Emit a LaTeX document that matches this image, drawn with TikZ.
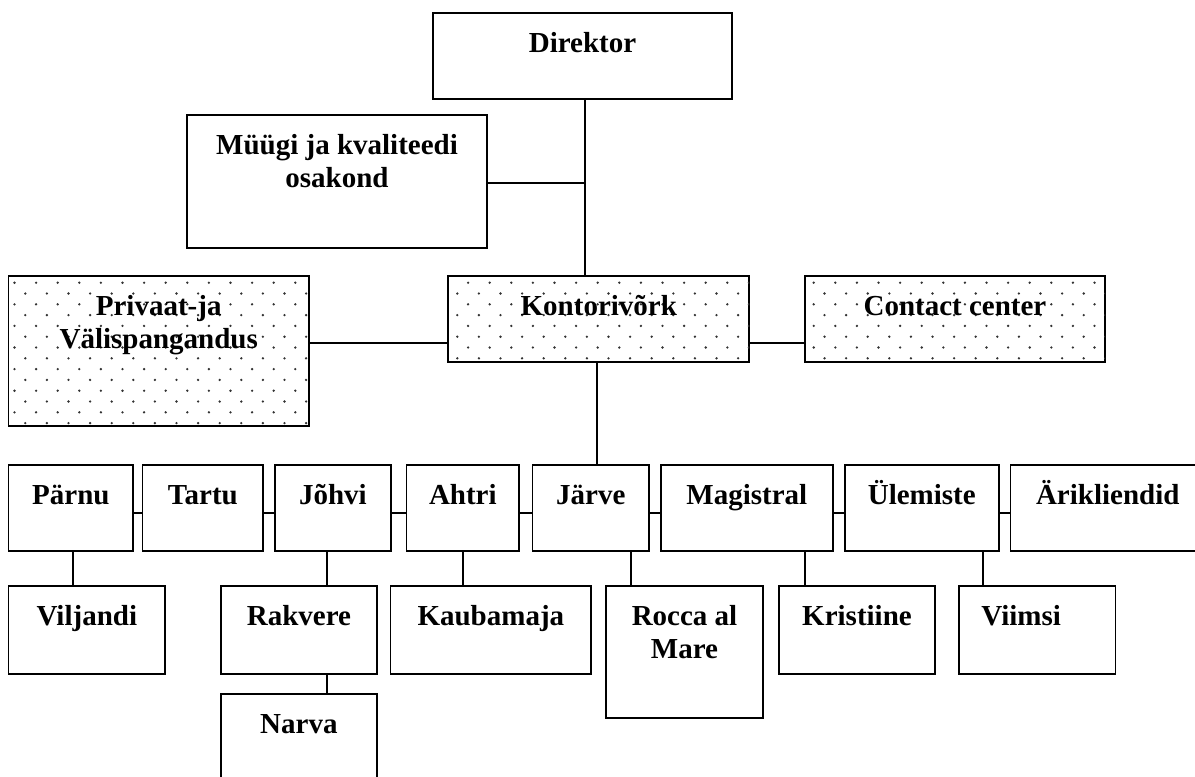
\documentclass[tikz,border=0pt]{standalone}
\usepackage{fontspec}
\setmainfont{Liberation Serif}
\newcommand\orgbox[5]{%
  \node[box, minimum width={#4-#2}, minimum height={#5-#3}] (#1) at ({(#2+#4)/2},{(#3+#5)/2}) {};}
\newcommand\orgtext[3][0]{%
  \node[lbl, anchor=base] (#2-t) at ([xshift=#1pt,yshift=-39pt]#2.north) {#3};}
\newcommand\orgtexttwo[2]{%
  \node[lbl, anchor=base] (#1-t) at ([yshift=-72.5pt]#1.north) {#2};}
\newcommand\dotgrid[5]{%
  \begin{scope}
    \clip (#1.south west) rectangle (#1.north east);
    \foreach \j in {#4,...,#5}{
      \foreach \i in {#2,...,#3}{
        \fill[dotc] ({14.5+21.6*\i+10.8*mod(\j,2)},{282.7+10.8*\j}) circle (1.3pt);
      }}
  \end{scope}}
\begin{document}
\begin{tikzpicture}[x=1pt,y=-1pt,
  box/.style={draw, line width=1.8pt, rectangle, inner sep=0pt, outer sep=0pt},
  lbl/.style={font=\bfseries\fontsize{29}{33.5}\selectfont, inner sep=0pt, align=center},
  conn/.style={line width=1.5pt},
  dotc/.style={fill=black!80}]
\useasboundingbox (0,0) rectangle (1195,777);
\clip (0,0) rectangle (1195,777);

% top level
\orgbox{direktor}{433}{13}{732}{99}
\orgbox{muugi}{187}{115}{487}{248}
% middle level
\orgbox{privaat}{8.4}{276}{309}{426}
\orgbox{kontor}{448.3}{276}{749.3}{362}
\orgbox{contact}{804.9}{276}{1105}{362}
% row 1
\orgbox{parnu}{8.4}{465}{133.3}{551}
\orgbox{tartu}{142.4}{465}{263.3}{551}
\orgbox{johvi}{274.8}{465}{391}{551}
\orgbox{ahtri}{406.4}{465}{519.3}{551}
\orgbox{jarve}{532.5}{465}{649.2}{551}
\orgbox{magistral}{660.6}{465}{833}{551}
\orgbox{ulemiste}{844.6}{465}{999}{551}
\orgbox{ariklient}{1010.5}{465}{1205}{551}
% row 2
\orgbox{viljandi}{8.4}{586}{165.3}{674}
\orgbox{rakvere}{220.8}{586}{377}{674}
\orgbox{kaubamaja}{390.4}{586}{591.3}{674}
\orgbox{rocca}{606.2}{586}{762.8}{718}
\orgbox{kristiine}{778.7}{586}{935.3}{674}
\orgbox{viimsi}{958.8}{586}{1115.5}{674}
% row 3
\orgbox{narva}{220.8}{694}{377}{800}

% dotted fills
\dotgrid{privaat}{0}{13}{0}{13}
\dotgrid{kontor}{19}{34}{0}{7}
\dotgrid{contact}{36}{50}{0}{7}

% connectors
\coordinate (trunk) at ([xshift=2.5pt]direktor.south);
\draw[conn] (trunk) -- (trunk |- kontor.north);
\draw[conn] ([yshift=-1.5pt]muugi.east) -- ([yshift=-1.5pt]muugi.east -| trunk);
\draw[conn] ([yshift=-24pt]kontor.west) -- ([yshift=-24pt]kontor.west -| privaat.east);
\draw[conn] ([yshift=-24pt]kontor.east) -- ([yshift=-24pt]kontor.east -| contact.west);
\draw[conn] ([xshift=-2pt]kontor.south) -- ([xshift=-2pt]kontor.south |- jarve.north);
\foreach \a/\b in {parnu/tartu, tartu/johvi, johvi/ahtri, ahtri/jarve, jarve/magistral, magistral/ulemiste, ulemiste/ariklient}{
  \draw[conn] ([yshift=-5pt]\a.east) -- ([yshift=-5pt]\b.west);
}
\draw[conn] ([xshift=2pt]parnu.south) -- ([xshift=2pt]parnu.south |- viljandi.north);
\draw[conn] ([xshift=-6pt]johvi.south) -- ([xshift=-6pt]johvi.south |- rakvere.north);
\draw[conn] (ahtri.south) -- (ahtri.south |- kaubamaja.north);
\draw[conn] ([xshift=40pt]jarve.south) -- ([xshift=40pt]jarve.south |- rocca.north);
\draw[conn] ([xshift=58pt]magistral.south) -- ([xshift=58pt]magistral.south |- kristiine.north);
\draw[conn] ([xshift=61pt]ulemiste.south) -- ([xshift=61pt]ulemiste.south |- viimsi.north);
\draw[conn] ([xshift=28pt]rakvere.south) -- ([xshift=28pt]rakvere.south |- narva.north);

% texts
\orgtext{direktor}{Direktor}
\orgtexttwo{muugi}{Müügi ja kvaliteedi\\osakond}
\orgtexttwo{privaat}{Privaat-ja\\Välispangandus}
\orgtext{kontor}{Kontorivõrk}
\orgtext{contact}{Contact center}
\orgtext{parnu}{Pärnu}
\orgtext{tartu}{Tartu}
\orgtext{johvi}{Jõhvi}
\orgtext{ahtri}{Ahtri}
\orgtext{jarve}{Järve}
\orgtext{magistral}{Magistral}
\orgtext{ulemiste}{Ülemiste}
\orgtext{ariklient}{Ärikliendid}
\orgtext{viljandi}{Viljandi}
\orgtext{rakvere}{Rakvere}
\orgtext{kaubamaja}{Kaubamaja}
\orgtexttwo{rocca}{Rocca al\\Mare}
\orgtext{kristiine}{Kristiine}
\orgtext[-16]{viimsi}{Viimsi}
\orgtext{narva}{Narva}
\end{tikzpicture}
\end{document}
